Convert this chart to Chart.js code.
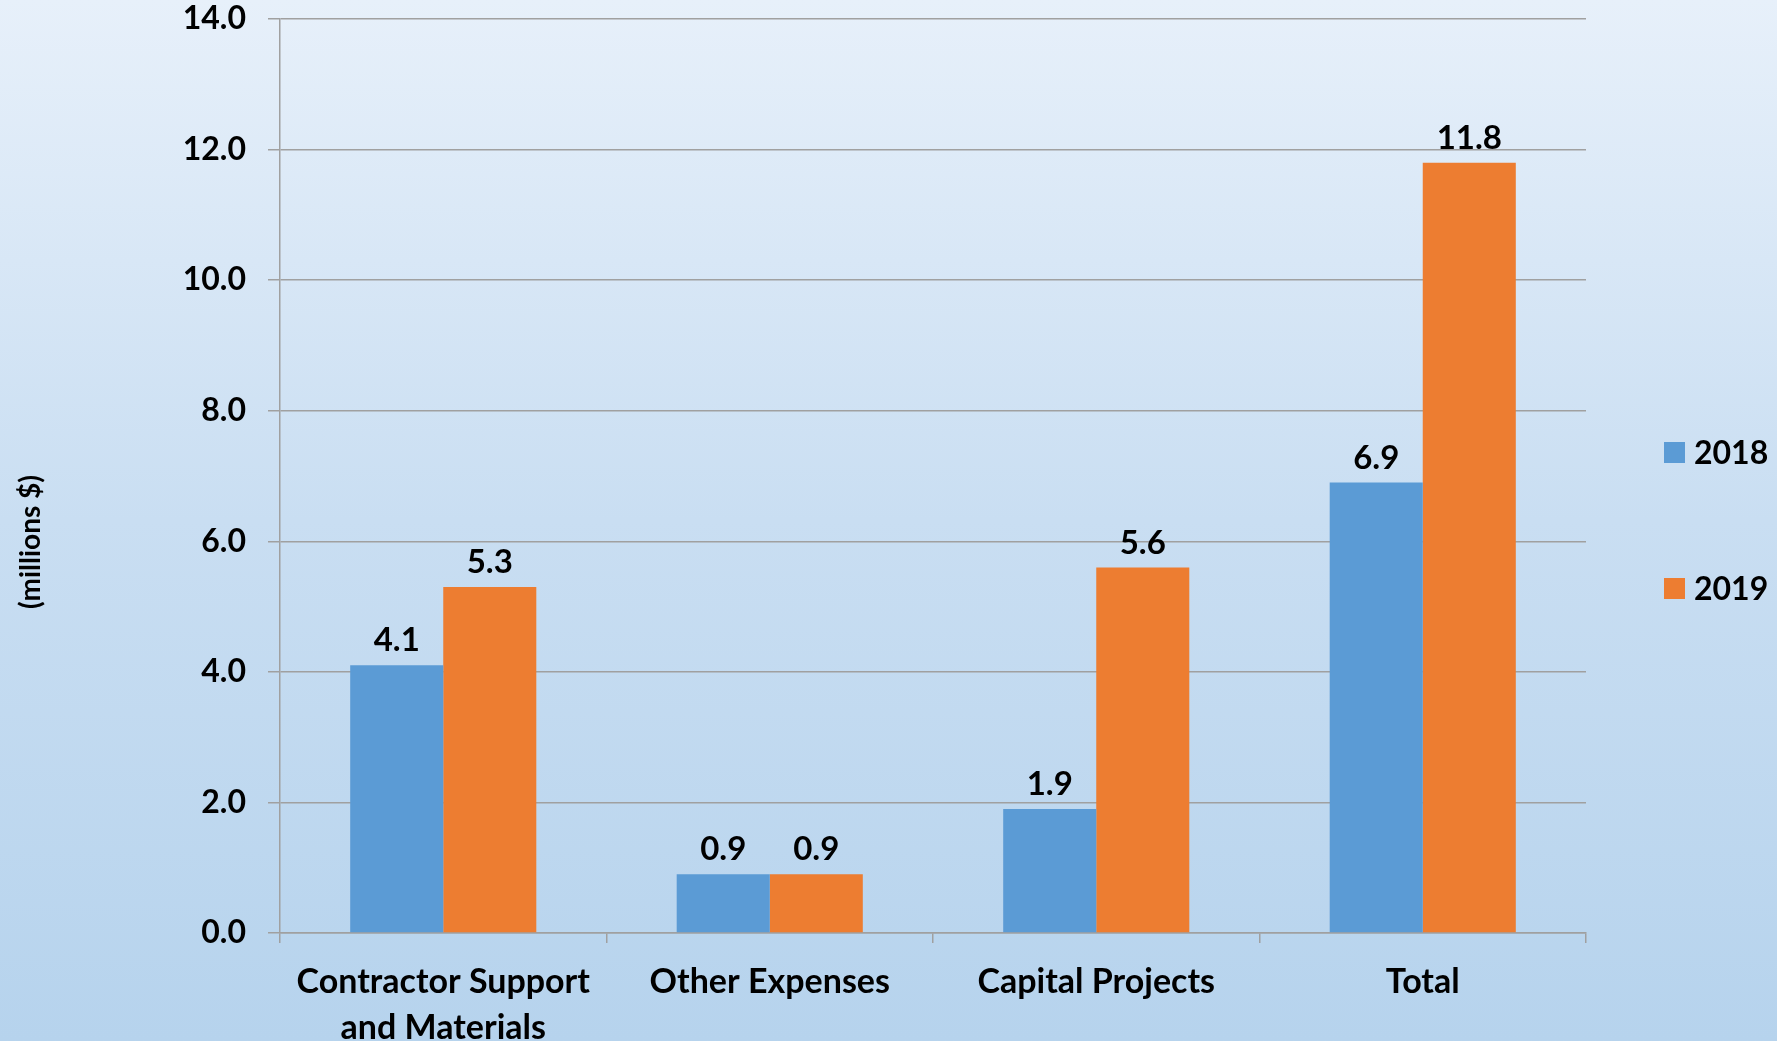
<!DOCTYPE html>
<html>
<head>
<meta charset="utf-8">
<script src="https://cdn.jsdelivr.net/npm/chart.js@4"></script>
<style>
  html, body { margin: 0; padding: 0; }
  body {
    width: 1777px; height: 1041px; overflow: hidden;
    background: linear-gradient(180deg, #e7f0fa 0%, #c9def2 50%, #b6d3ed 100%);
  }
  #wrap { width: 1777px; height: 1041px; }
</style>
</head>
<body>
<div id="wrap"><canvas id="myChart"></canvas></div>
<script>
var categories = [['Contractor Support', 'and Materials'], 'Other Expenses', 'Capital Projects', 'Total'];
var values2018 = [4.1, 0.9, 1.9, 6.9];
var values2019 = [5.3, 0.9, 5.6, 11.8];
var yTicks = [0, 2, 4, 6, 8, 10, 12, 14];
var yTitle = '(millions $)';

var FONT = 'Lato, "Open Sans", sans-serif';
Chart.defaults.font.family = FONT;
Chart.defaults.font.weight = 'bold';
Chart.defaults.color = '#000';

// value labels, rotated axis title and a right-hand legend with wide spacing
var extras = {
    id: 'extras',
    afterDatasetsDraw: function (chart) {
        var ctx = chart.ctx;
        var area = chart.chartArea;
        ctx.save();
        ctx.font = 'bold 33px ' + FONT;
        ctx.fillStyle = '#000';
        ctx.textAlign = 'center';
        ctx.textBaseline = 'bottom';
        chart.data.datasets.forEach(function (ds, i) {
            chart.getDatasetMeta(i).data.forEach(function (bar, j) {
                ctx.fillText(ds.data[j].toFixed(1), bar.x, bar.y - 8);
            });
        });

        // legend
        ctx.textAlign = 'left';
        ctx.textBaseline = 'middle';
        ctx.font = 'bold 32px ' + FONT;
        var n = chart.data.datasets.length;
        chart.data.datasets.forEach(function (ds, i) {
            var y = chart.height / 2 + (i - (n - 1) / 2) * 136;
            var x = area.right + 78;
            ctx.fillStyle = ds.backgroundColor;
            ctx.fillRect(x, y - 10.5, 21, 21);
            ctx.fillStyle = '#000';
            ctx.fillText(ds.label, x + 30, y + 1);
        });

        // y axis title
        ctx.translate(31, (area.top + area.bottom) / 2 + 66);
        ctx.rotate(-Math.PI / 2);
        ctx.textAlign = 'center';
        ctx.font = 'bold 28px ' + FONT;
        ctx.fillText(yTitle, 0, 0);
        ctx.restore();
    }
};

var ctx = document.getElementById('myChart').getContext('2d');
var myChart = new Chart(ctx, {
    type: 'bar',
    data: {
        labels: categories,
        datasets: [
            {
                label: '2018',
                data: values2018,
                backgroundColor: '#5b9bd5',
                categoryPercentage: 0.57,
                barPercentage: 1.0,
            },
            {
                label: '2019',
                data: values2019,
                backgroundColor: '#ed7d31',
                categoryPercentage: 0.57,
                barPercentage: 1.0,
            },
        ],
    },
    options: {
        responsive: true,
        maintainAspectRatio: false,
        animation: false,
        layout: { padding: { left: 20, top: 19, right: 191, bottom: 0 } },
        plugins: {
            tooltip: { enabled: false },
            legend: { display: false },
        },
        scales: {
            x: {
                grid: {
                    display: true,
                    drawOnChartArea: false,
                    drawTicks: true,
                    tickLength: 10,
                    color: '#a0a0a0',
                    lineWidth: 1.5,
                },
                border: { color: '#a0a0a0', width: 1.5 },
                ticks: {
                    font: { size: 34, weight: 'bold', lineHeight: 1.36 },
                    padding: 16,
                    maxRotation: 0,
                },
                afterFit: function (scale) { scale.height = 108; },
            },
            y: {
                min: 0,
                max: 14,
                afterBuildTicks: function (scale) {
                    scale.ticks = yTicks.map(function (v) { return { value: v }; });
                },
                grid: {
                    color: '#a0a0a0',
                    lineWidth: 1.5,
                    tickLength: 12,
                },
                border: { color: '#a0a0a0', width: 1.5 },
                ticks: {
                    font: { size: 32, weight: 'bold' },
                    padding: 22,
                    callback: function (v) { return v.toFixed(1); },
                },
                afterFit: function (scale) {
                    scale.width = 260;
                    scale.paddingTop = 0;
                    scale.paddingBottom = 0;
                },
            },
        },
    },
    plugins: [extras],
});
</script>
</body>
</html>
